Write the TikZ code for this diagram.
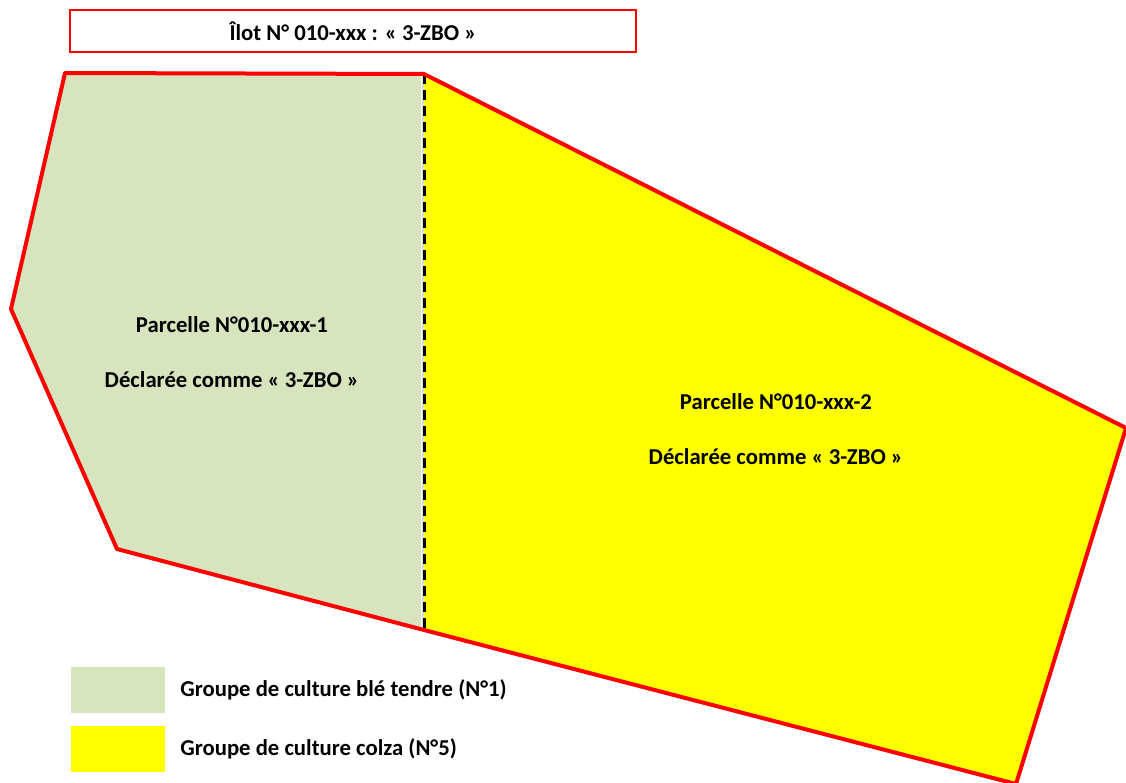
\documentclass[tikz,border=0pt]{standalone}
\usepackage{fontspec}
\setmainfont{Carlito}
\usepackage{tikz}
\usetikzlibrary{positioning}
\definecolor{ilotred}{RGB}{255,0,0}
\definecolor{blegreen}{RGB}{215,228,189}
\definecolor{colzayellow}{RGB}{255,255,0}
\tikzstyle{label} = [font=\bfseries\fontsize{22.7}{26}\selectfont, text=black, align=center]
\tikzstyle{legendbox} = [rectangle, minimum width=94pt, minimum height=46pt, inner sep=0pt, draw=none]
\tikzstyle{legendtext} = [font=\bfseries\fontsize{22.7}{26}\selectfont, anchor=west, inner sep=0pt]

\begin{document}
\begin{tikzpicture}[x=1pt, y=-1pt]
\useasboundingbox (0,0) rectangle (1126,783);
\clip (0,0) rectangle (1126,783);

% Corners of the ilot
\coordinate (nw) at (65,73);
\coordinate (nmid) at (424,74);
\coordinate (east) at (1126,428);
\coordinate (se) at (1016,784);
\coordinate (smid) at (424,630);
\coordinate (sw) at (117,549);
\coordinate (west) at (11,309);

% Two parcels
\fill[blegreen] (nw) -- (nmid) -- (smid) -- (sw) -- (west) -- cycle;
\fill[colzayellow] (nmid) -- (east) -- (se) -- (smid) -- cycle;
\draw[white, line width=1.5pt] ([xshift=-2.5pt]nmid) -- ([xshift=-2.5pt]smid);
\draw[black, line width=3pt, dash pattern=on 10pt off 6pt] (nmid) -- (smid);
\draw[ilotred, line width=4pt, line join=round] (nw) -- (nmid) -- (east) -- (se) -- (smid) -- (sw) -- (west) -- cycle;

% Title
\node (title) [rectangle, draw=ilotred, line width=2pt, fill=white, minimum width=566pt, minimum height=42pt, label] at (353,31) {Îlot N° 010-xxx : « 3-ZBO »};

% Parcel labels
\node (p1) [label] at (232,325) {Parcelle N°010-xxx-1};
\node (d1) [label] at (232,380) {Déclarée comme « 3-ZBO »};
\node (p2) [label] at (776,402) {Parcelle N°010-xxx-2};
\node (d2) [label] at (776,457) {Déclarée comme « 3-ZBO »};

% Legend
\node (leg1) [legendbox, fill=blegreen] at (118,690) {};
\node (leg5) [legendbox, fill=colzayellow] at (118,749) {};
\node (txt1) [legendtext, right=15pt of leg1] {Groupe de culture blé tendre (N°1)};
\node (txt5) [legendtext, right=15pt of leg5] {Groupe de culture colza (N°5)};
\end{tikzpicture}
\end{document}
